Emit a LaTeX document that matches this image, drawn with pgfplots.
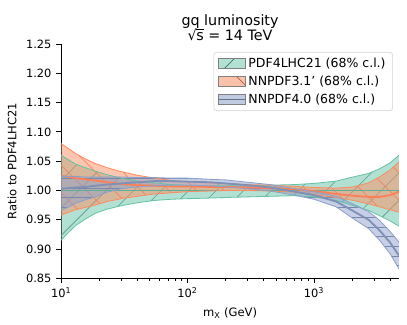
\documentclass[border=0pt]{standalone}
\usepackage{fontspec}
\setmainfont{DejaVu Sans}
\usepackage{pgfplots}
\usepackage{pgfplotstable}
\pgfplotsset{compat=1.18}
\usepgfplotslibrary{fillbetween}
\usetikzlibrary{patterns.meta}

\definecolor{sgreen}{RGB}{102,194,165}
\definecolor{sorange}{RGB}{252,141,98}
\definecolor{sblue}{RGB}{141,160,203}

% PDF4LHC21 band (central value is 1)
\pgfplotstableread{
m     lo     hi
10    0.915  1.060
11.5  0.929  1.052
13    0.940  1.045
15.5  0.951  1.039
18.6  0.961  1.033
23    0.968  1.027
30    0.974  1.021
40    0.979  1.016
55    0.983  1.013
75    0.985  1.010
100   0.986  1.009
150   0.987  1.008
200   0.988  1.008
300   0.989  1.008
450   0.990  1.009
700   0.991  1.010
1000  0.989  1.012
1500  0.983  1.016
2040  0.974  1.023
2700  0.966  1.029
3300  0.957  1.037
4000  0.948  1.047
4700  0.939  1.060
}\pdflhc

% NNPDF3.1'
\pgfplotstableread{
m     lo     mid    hi
10    0.958  1.025  1.080
11.5  0.963  1.023  1.071
13    0.967  1.021  1.063
15.5  0.971  1.019  1.054
18.6  0.975  1.017  1.046
23    0.981  1.014  1.039
30    0.986  1.011  1.032
40    0.990  1.009  1.026
55    0.994  1.008  1.021
75    0.996  1.007  1.017
100   0.998  1.007  1.015
150   0.999  1.006  1.013
200   1.000  1.006  1.012
300   1.000  1.005  1.010
450   0.999  1.004  1.009
700   0.997  1.002  1.007
1000  0.993  0.999  1.005
1500  0.988  0.994  1.004
2040  0.983  0.991  1.006
2700  0.977  0.989  1.013
3300  0.972  0.989  1.023
4000  0.967  0.992  1.035
4700  0.963  0.998  1.049
}\nnthree

% NNPDF4.0
\pgfplotstableread{
m     lo     mid    hi
10    0.966  1.003  1.024
11.5  0.972  1.004  1.024
13    0.978  1.005  1.024
15.5  0.984  1.006  1.023
18.6  0.989  1.008  1.023
23    0.997  1.010  1.023
30    1.003  1.012  1.023
40    1.006  1.014  1.022
55    1.008  1.016  1.022
75    1.009  1.016  1.021
100   1.009  1.015  1.021
150   1.008  1.014  1.019
200   1.006  1.012  1.018
300   1.003  1.009  1.014
450   0.999  1.005  1.010
700   0.992  0.998  1.003
1000  0.985  0.992  0.998
1500  0.972  0.981  0.990
2040  0.952  0.965  0.977
2700  0.935  0.950  0.964
3300  0.915  0.932  0.949
4000  0.892  0.911  0.930
4700  0.866  0.889  0.912
}\nnfour

\begin{document}
\begin{tikzpicture}
\begin{axis}[
    scale only axis,
    width=243pt, height=168.5pt,
    xmode=log,
    xmin=10, xmax=4700,
    ymin=0.85, ymax=1.25,
    axis lines*=left,
    tick align=outside,
    major tick length=3.5pt,
    minor tick length=2pt,
    tick style={black, line width=0.6pt},
    axis line style={line width=0.6pt},
    xtick={10,100,1000},
    xticklabels={10\textsuperscript{1},10\textsuperscript{2},10\textsuperscript{3}},
    minor xtick={20,30,40,50,60,70,80,90,200,300,400,500,600,700,800,900,2000,3000,4000},
    ytick={0.85,0.90,0.95,1.00,1.05,1.10,1.15,1.20,1.25},
    yticklabel style={/pgf/number format/.cd, fixed, fixed zerofill, precision=2},
    /pgf/number format/assume math mode=true,
    tick label style={font=\fontsize{8.2}{10}\selectfont},
    label style={font=\fontsize{8.3}{10}\selectfont},
    ylabel={Ratio to PDF4LHC21},
    xlabel={m\textsubscript{X} (GeV)},
    title style={align=center, font=\fontsize{10.3}{11}\selectfont, inner sep=1pt, yshift=-5pt},
    title={gq luminosity\\√\kern-0.3pt\makebox[0pt][l]{\rule[7.7pt]{5.4pt}{0.5pt}}s = 14 TeV},
    legend style={at={(0.982,0.966)}, anchor=north east, draw=gray!35,
        rounded corners=2pt, font=\fontsize{9}{11}\selectfont,
        row sep=0.5pt, inner xsep=3pt},
    legend cell align=left,
]
% PDF4LHC21
\addplot[sgreen, line width=0.6pt, name path=gu, forget plot] table[x=m, y=hi] {\pdflhc};
\addplot[sgreen, line width=0.6pt, name path=gl, forget plot] table[x=m, y=lo] {\pdflhc};
\addplot[fill=sgreen, fill opacity=0.5, draw=none, forget plot] fill between[of=gu and gl];
\addplot[pattern={Lines[angle=45,distance=14pt,line width=0.4pt]}, pattern color=sgreen!80!black, draw=none, forget plot] fill between[of=gu and gl];
\addplot[sgreen!90!black, line width=1.3pt, forget plot] coordinates {(10,1) (4700,1)};
% NNPDF3.1'
\addplot[sorange, line width=0.6pt, name path=ou, forget plot] table[x=m, y=hi] {\nnthree};
\addplot[sorange, line width=0.6pt, name path=ol, forget plot] table[x=m, y=lo] {\nnthree};
\addplot[fill=sorange, fill opacity=0.5, draw=none, forget plot] fill between[of=ou and ol];
\addplot[pattern={Lines[angle=-45,distance=14pt,line width=0.4pt]}, pattern color=sorange!85!red, draw=none, forget plot] fill between[of=ou and ol];
\addplot[sorange!90!red, line width=1.3pt, forget plot] table[x=m, y=mid] {\nnthree};
% NNPDF4.0
\addplot[sblue, line width=0.6pt, name path=bu, forget plot] table[x=m, y=hi] {\nnfour};
\addplot[sblue, line width=0.6pt, name path=bl, forget plot] table[x=m, y=lo] {\nnfour};
\addplot[fill=sblue, fill opacity=0.5, draw=none, forget plot] fill between[of=bu and bl];
\addplot[pattern={Lines[angle=0,distance=7pt,line width=0.4pt]}, pattern color=sblue!85!black, fill opacity=0.5, draw=none, forget plot] fill between[of=bu and bl];
\addplot[sblue!90!black, line width=1.3pt, forget plot] table[x=m, y=mid] {\nnfour};

\addlegendimage{legend image code/.code={
    \fill[sgreen!50, sharp corners] (0pt,-3.5pt) rectangle (19pt,3.5pt);
    \draw[sgreen!60!black, line width=0.5pt] (4pt,-3.5pt) -- (11pt,3.5pt);
    \draw[gray, line width=0.8pt, sharp corners] (0pt,-3.5pt) rectangle (19pt,3.5pt);}}
\addlegendentry{PDF4LHC21 (68\% c.l.)}
\addlegendimage{legend image code/.code={
    \fill[sorange!55, sharp corners] (0pt,-3.5pt) rectangle (19pt,3.5pt);
    \draw[sorange!70!black, line width=0.5pt] (13pt,3.5pt) -- (19pt,-2.5pt);
    \draw[gray, line width=0.8pt, sharp corners] (0pt,-3.5pt) rectangle (19pt,3.5pt);}}
\addlegendentry{NNPDF3.1' (68\% c.l.)}
\addlegendimage{legend image code/.code={
    \fill[sblue!55, sharp corners] (0pt,-3.5pt) rectangle (19pt,3.5pt);
    \draw[sblue!70!black, line width=0.4pt] (0pt,0pt) -- (19pt,0pt);
    \draw[gray, line width=0.8pt, sharp corners] (0pt,-3.5pt) rectangle (19pt,3.5pt);}}
\addlegendentry{NNPDF4.0 (68\% c.l.)}
\end{axis}
\path (-44pt,-33pt) rectangle (248.8pt,200.2pt);
\end{tikzpicture}
\end{document}
